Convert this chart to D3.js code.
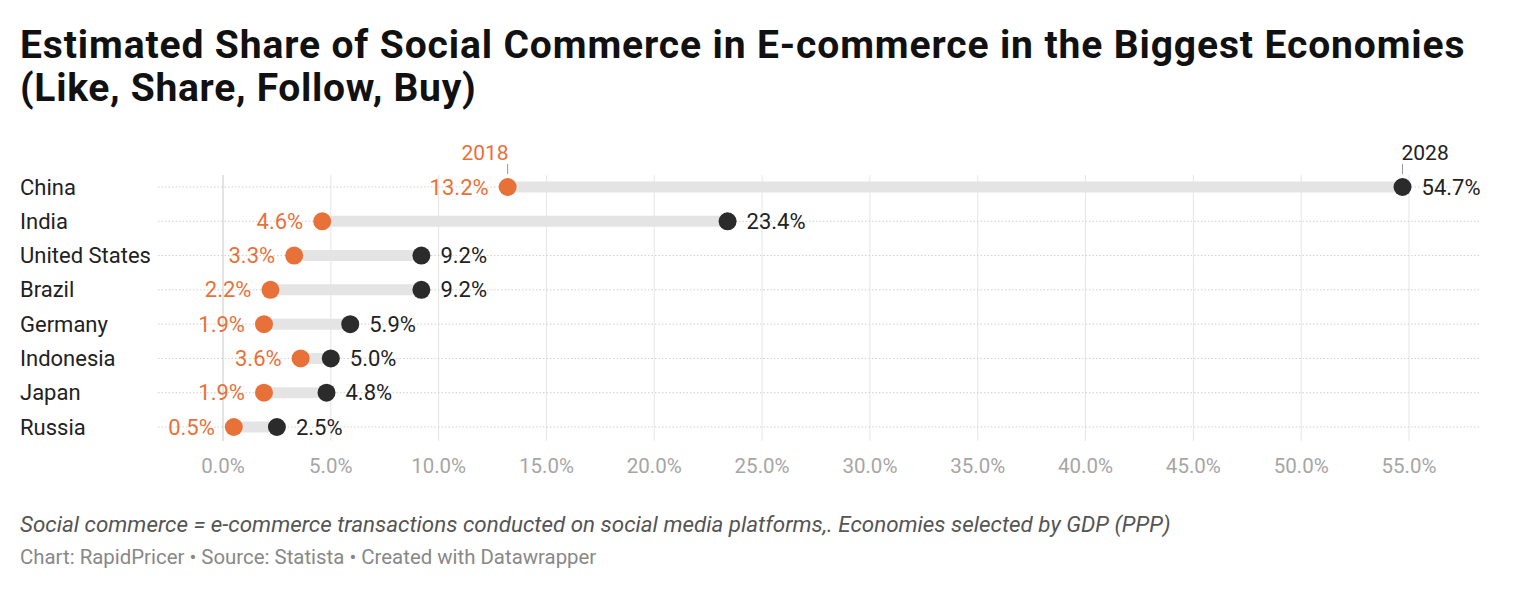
<!DOCTYPE html>
<html>
<head>
<meta charset="utf-8">
<script src="https://cdn.jsdelivr.net/npm/d3@7"></script>
<style>
  body { margin: 0; background: #fff; font-family: Roboto, sans-serif; }
</style>
</head>
<body>
<div id="chart"></div>
<script>
// data
var countries = ["China", "India", "United States", "Brazil", "Germany", "Indonesia", "Japan", "Russia"];
var share2018 = [13.2, 4.6, 3.3, 2.2, 1.9, 3.6, 1.9, 0.5];
var share2028 = [54.7, 23.4, 9.2, 9.2, 5.9, 5.0, 4.8, 2.5];
var tickValues = [0, 5, 10, 15, 20, 25, 30, 35, 40, 45, 50, 55];

var w = 1520, h = 591;
var orange = "#e8713a", dark = "#2b2b2b";

var svg = d3.select("#chart").append("svg")
    .attr("width", w)
    .attr("height", h);

// title
svg.append("text").attr("x", 20).attr("y", 58)
    .attr("font-size", 39).attr("font-weight", 700).attr("fill", "#111")
    .attr("letter-spacing", 0.5)
    .attr("textLength", 1445)
    .text("Estimated Share of Social Commerce in E-commerce in the Biggest Economies");
svg.append("text").attr("x", 20).attr("y", 101)
    .attr("font-size", 39).attr("font-weight", 700).attr("fill", "#111")
    .attr("letter-spacing", 0.7)
    .text("(Like, Share, Follow, Buy)");

var x = d3.scaleLinear().domain([0, 55]).range([223, 1409]);
var y = d3.scalePoint().domain(countries).range([187, 427]);

// vertical grid
svg.selectAll("line.grid")
    .data(tickValues)
    .enter()
    .append("line")
    .attr("class", "grid")
    .attr("x1", function(d){ return x(d); })
    .attr("x2", function(d){ return x(d); })
    .attr("y1", 175)
    .attr("y2", 441)
    .attr("stroke", function(d){ return d === 0 ? "#c8c8c8" : "#e6e6e6"; })
    .attr("stroke-width", 1);

// tick labels
svg.selectAll("text.tick")
    .data(tickValues)
    .enter()
    .append("text")
    .attr("class", "tick")
    .attr("x", function(d){ return x(d); })
    .attr("y", 473)
    .attr("text-anchor", "middle")
    .attr("font-size", 20.5)
    .attr("fill", "#a6a6a6")
    .text(function(d){ return d.toFixed(1) + "%"; });

// dotted row lines
svg.selectAll("line.row")
    .data(countries)
    .enter()
    .append("line")
    .attr("class", "row")
    .attr("x1", 158)
    .attr("x2", 1479)
    .attr("y1", function(d){ return y(d); })
    .attr("y2", function(d){ return y(d); })
    .attr("stroke", "#cfcfcf")
    .attr("stroke-width", 1)
    .attr("stroke-dasharray", "1.5,2");

// country labels
svg.selectAll("text.country")
    .data(countries)
    .enter()
    .append("text")
    .attr("class", "country")
    .attr("x", 20)
    .attr("y", function(d){ return y(d) + 7.5; })
    .attr("font-size", 22)
    .attr("fill", "#222")
    .text(function(d){ return d; });

// range bars
svg.selectAll("line.range")
    .data(countries)
    .enter()
    .append("line")
    .attr("class", "range")
    .attr("x1", function(d, i){ return x(share2018[i]); })
    .attr("x2", function(d, i){ return x(share2028[i]); })
    .attr("y1", function(d){ return y(d); })
    .attr("y2", function(d){ return y(d); })
    .attr("stroke", "#e4e4e4")
    .attr("stroke-width", 11);

// 2018 dots
svg.selectAll("circle.y2018")
    .data(countries)
    .enter()
    .append("circle")
    .attr("class", "y2018")
    .attr("cx", function(d, i){ return x(share2018[i]); })
    .attr("cy", function(d){ return y(d); })
    .attr("r", 9)
    .attr("fill", orange);

// 2028 dots
svg.selectAll("circle.y2028")
    .data(countries)
    .enter()
    .append("circle")
    .attr("class", "y2028")
    .attr("cx", function(d, i){ return x(share2028[i]); })
    .attr("cy", function(d){ return y(d); })
    .attr("r", 9)
    .attr("fill", dark);

// value labels
svg.selectAll("text.v2018")
    .data(countries)
    .enter()
    .append("text")
    .attr("class", "v2018")
    .attr("x", function(d, i){ return x(share2018[i]) - 19; })
    .attr("y", function(d){ return y(d) + 7.5; })
    .attr("text-anchor", "end")
    .attr("font-size", 22)
    .attr("fill", orange)
    .text(function(d, i){ return share2018[i].toFixed(1) + "%"; });

svg.selectAll("text.v2028")
    .data(countries)
    .enter()
    .append("text")
    .attr("class", "v2028")
    .attr("x", function(d, i){ return x(share2028[i]) + 19; })
    .attr("y", function(d){ return y(d) + 7.5; })
    .attr("font-size", 22)
    .attr("fill", "#222")
    .text(function(d, i){ return share2028[i].toFixed(1) + "%"; });

// series labels above China
var top2018 = x(share2018[0]), top2028 = x(share2028[0]);
svg.append("line").attr("x1", top2018).attr("x2", top2018).attr("y1", 164).attr("y2", 174)
    .attr("stroke", "#999").attr("stroke-width", 1);
svg.append("text").attr("x", top2018 + 1).attr("y", 160).attr("text-anchor", "end")
    .attr("font-size", 21).attr("fill", orange).text("2018");
svg.append("line").attr("x1", top2028).attr("x2", top2028).attr("y1", 164).attr("y2", 174)
    .attr("stroke", "#999").attr("stroke-width", 1);
svg.append("text").attr("x", top2028 - 1).attr("y", 160).attr("text-anchor", "start")
    .attr("font-size", 21).attr("fill", "#222").text("2028");

// notes
svg.append("text").attr("x", 20).attr("y", 532)
    .attr("font-size", 22.4).attr("font-style", "italic").attr("fill", "#555")
    .text("Social commerce = e-commerce transactions conducted on social media platforms,. Economies selected by GDP (PPP)");
svg.append("text").attr("x", 20).attr("y", 564)
    .attr("font-size", 20.4).attr("fill", "#888")
    .text("Chart: RapidPricer \u2022 Source: Statista \u2022 Created with Datawrapper");
</script>
</body>
</html>
